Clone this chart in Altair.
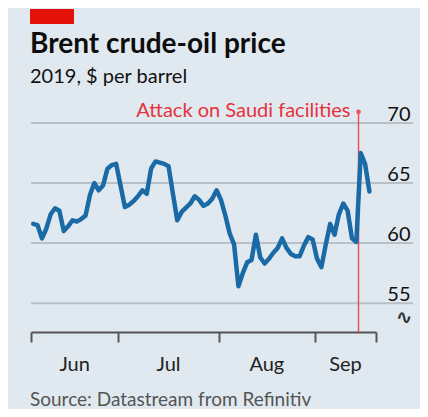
import altair as alt
import pandas as pd

# ---- data -------------------------------------------------------------
trading_days = pd.bdate_range("2019-06-03", "2019-09-18")

prices_jun = [61.6, 61.5, 60.4, 61.2, 62.4, 62.9, 62.7, 61.0, 61.4, 61.9,
              61.8, 62.0, 62.3, 64.0, 65.0, 64.4, 64.8, 66.2, 66.5, 66.6]
prices_jul = [64.8, 63.0, 63.2, 63.5, 63.9, 64.4, 64.1, 66.2, 66.8, 66.7,
              66.6, 66.4, 64.1, 61.9, 62.6, 62.95, 63.3, 63.9, 63.6, 63.1,
              63.3, 63.7, 64.4]
prices_aug = [63.6, 62.3, 60.8, 59.9, 56.4, 57.5, 58.4, 58.6, 60.7, 58.8,
              58.3, 58.7, 59.2, 59.6, 60.4, 59.6, 59.1, 58.9, 58.9, 59.8,
              60.5, 60.3]
prices_sep = [58.7, 58.0, 59.9, 61.6, 60.7, 62.4, 63.3, 62.7, 60.4, 60.1,
              67.5, 66.6, 64.3]
prices = prices_jun + prices_jul + prices_aug + prices_sep

month_names = ["Jun", "Jul", "Aug", "Sep"]
y_ticks = [55, 60, 65, 70]
y_domain = [52.6, 71]
attack_last_day = "2019-09-13"
attack_top = 70.93

title_text = "Brent crude-oil price"
subtitle_text = "2019, $ per barrel"
source_text = "Source: Datastream from Refinitiv"
annotation_text = "Attack on Saudi facilities"

# ---- derived tables -----------------------------------------------------
df = pd.DataFrame({"date": trading_days, "price": prices})
df["i"] = range(len(df))
first_idx = df.groupby(df["date"].dt.month)["i"].min().tolist()
bounds = [f - 0.5 for f in first_idx] + [len(df) + 0.5]
mids = [(a + b) / 2 for a, b in zip(bounds[:-1], bounds[1:])]
months_df = pd.DataFrame({"m": mids, "name": month_names})
attack_x = float(df.loc[df["date"] == attack_last_day, "i"].iloc[0]) + 0.5
attack_df = pd.DataFrame({"x": [attack_x], "y1": [y_domain[0]], "y2": [attack_top],
                          "label": [annotation_text]})
grid_df = pd.DataFrame({"v": y_ticks})

W, H = 345, 221
FONT = "Lato"
RED = "#e3120b"

xscale = alt.Scale(domain=[bounds[0], bounds[-1]], nice=False, zero=False)
yscale = alt.Scale(domain=y_domain, nice=False, zero=False)

x_axis = alt.Axis(values=bounds, labels=False, title=None, grid=False,
                  domainColor="#555555", domainWidth=2, tickColor="#555555",
                  tickWidth=2, tickSize=10)
y_axis = alt.Axis(orient="right", values=y_ticks, title=None, grid=False,
                  domain=False, ticks=False, labelAlign="right", labelPadding=34,
                  labelBaseline="alphabetic", labelOffset=-3, labelFontSize=20,
                  labelColor="#111111", labelFont=FONT)


def X(field):
    return alt.X(field, scale=xscale, axis=x_axis)


def Y(field):
    return alt.Y(field, scale=yscale, axis=y_axis)


grid = alt.Chart(grid_df).mark_rule(color="#b9c1c8", strokeWidth=2).encode(
    y=Y("v:Q"), x=alt.value(0), x2=alt.value(382))

line = alt.Chart(df).mark_line(color="#1a6aa5", strokeWidth=4.5,
                               strokeJoin="round", strokeCap="round").encode(
    x=X("i:Q"), y=Y("price:Q"))

attack_rule = alt.Chart(attack_df).mark_rule(color="#e8545a", strokeWidth=1.5).encode(
    x=X("x:Q"), y=Y("y1:Q"), y2="y2:Q")

attack_dot = alt.Chart(attack_df).mark_circle(color="#e8545a", size=22, opacity=1).encode(
    x=X("x:Q"), y=Y("y2:Q"))

attack_label = alt.Chart(attack_df).mark_text(
    align="right", baseline="alphabetic", dx=-8, dy=5, font=FONT, fontSize=20,
    color="#e5323b").encode(x=X("x:Q"), y=Y("y2:Q"), text="label:N")

month_labels = alt.Chart(months_df).mark_text(
    align="center", baseline="alphabetic", font=FONT, fontSize=20,
    color="#222222").encode(x=X("m:Q"), y=alt.value(259.7), text="name:N")


def free_text(txt, y, size, weight="normal", color="#111111", x=-1):
    return alt.Chart(pd.DataFrame({"t": [txt]})).mark_text(
        align="left", baseline="alphabetic", font=FONT, fontSize=size,
        fontWeight=weight, color=color).encode(
        x=alt.value(x), y=alt.value(y), text="t:N")


title = free_text(title_text, -58, 28, weight="bold", color="#0d0d0d")
subtitle = free_text(subtitle_text, -28, 20)
source = free_text(source_text, 295, 19, color="#555555")

red_tag = alt.Chart(pd.DataFrame({"k": [1]})).mark_rect(color=RED).encode(
    x=alt.value(-1), x2=alt.value(43), y=alt.value(-102), y2=alt.value(-87))

break_mark = alt.Chart(pd.DataFrame({"t": ["\u223f"]})).mark_text(
    align="center", baseline="middle", font="DejaVu Sans", fontSize=20,
    fontWeight="bold", color="#333333").encode(
    x=alt.value(373), y=alt.value(207), text="t:N")

chart = alt.layer(
    grid, attack_rule, line, attack_dot, attack_label, month_labels,
    title, subtitle, source, red_tag, break_mark
).properties(
    width=W, height=H,
    autosize=alt.AutoSizeParams(type="none"),
    padding={"left": 23, "top": 103, "right": 44, "bottom": 77},
    background="#e1e9f0",
).configure_view(stroke=None)

chart.save("out.html", embed_options={"renderer": "svg", "actions": False})
